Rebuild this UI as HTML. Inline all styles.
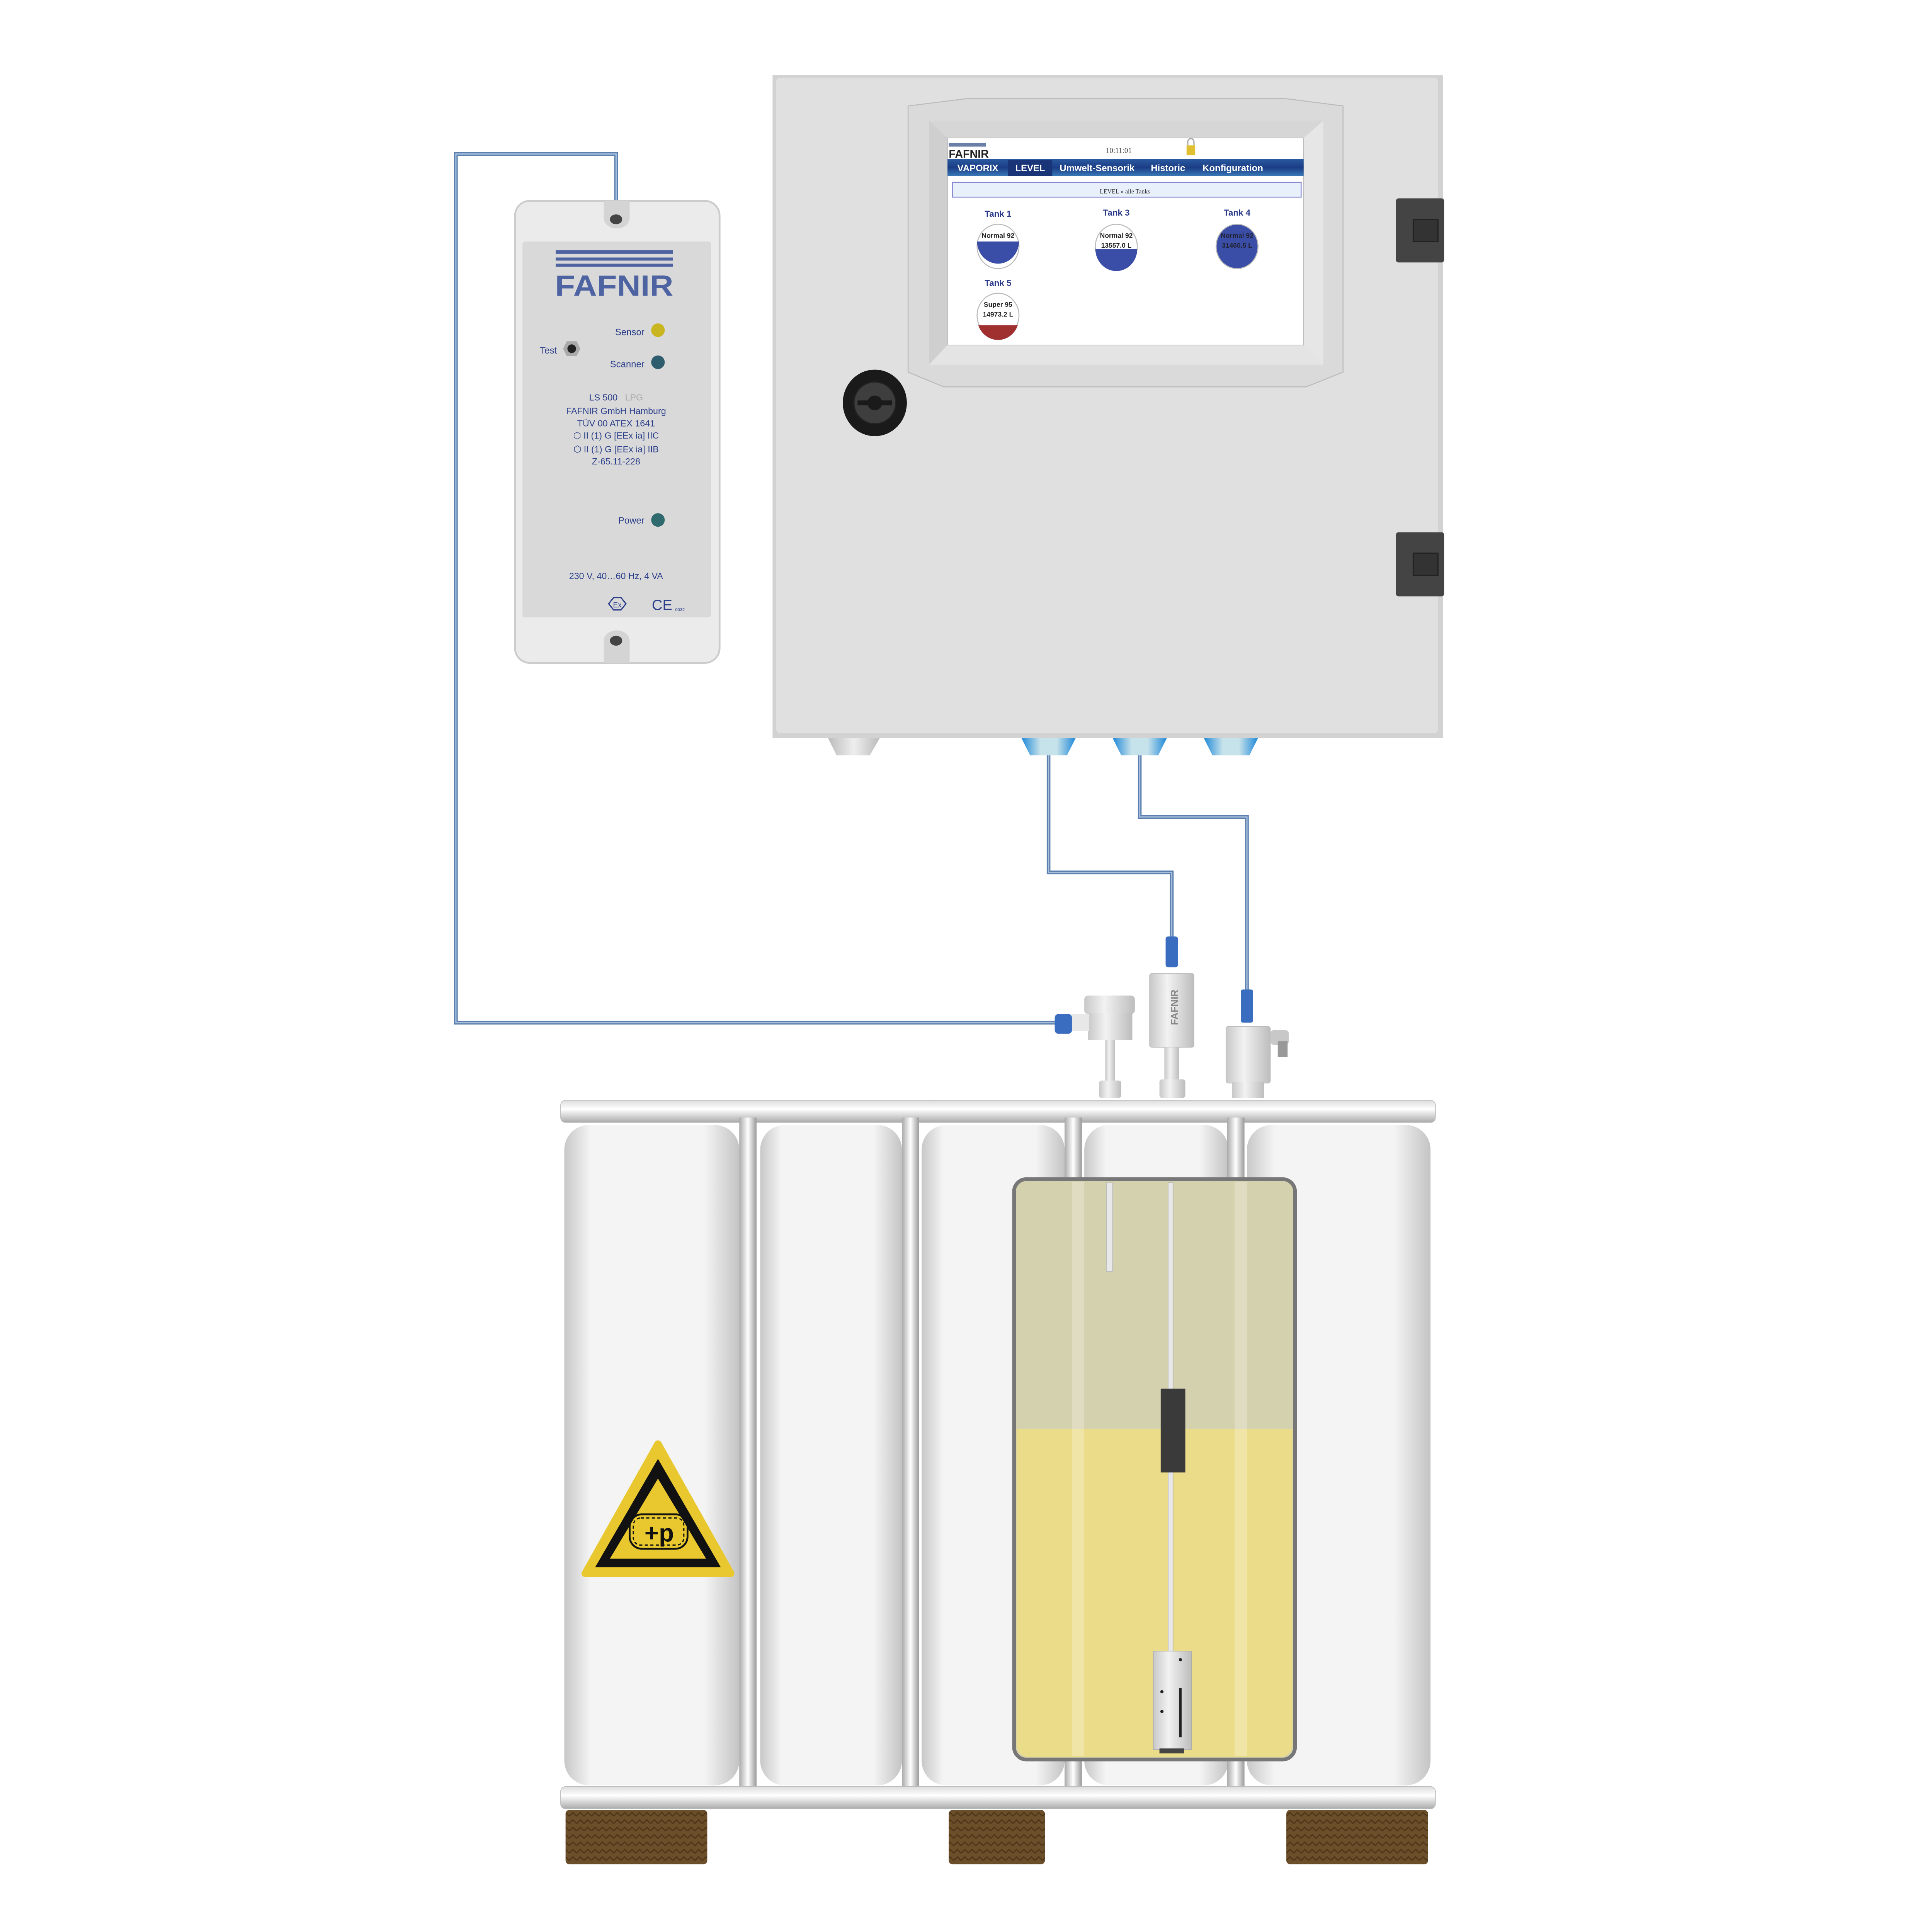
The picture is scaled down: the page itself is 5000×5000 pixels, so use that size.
<!DOCTYPE html>
<html><head><meta charset="utf-8"><style>
html,body{margin:0;padding:0;background:#fff;}
svg{display:block;}
text{font-family:"Liberation Sans",sans-serif;}
.sr{font-family:"Liberation Serif",serif;}
</style></head><body>
<svg width="5000" height="5000" viewBox="0 0 1568 1568" xmlns="http://www.w3.org/2000/svg">
<defs>
<linearGradient id="cell" x1="0" x2="1" y1="0" y2="0">
<stop offset="0" stop-color="#c8c8c8"/><stop offset="0.15" stop-color="#f4f4f4"/><stop offset="0.8" stop-color="#f4f4f4"/><stop offset="1" stop-color="#c4c4c4"/></linearGradient>
<linearGradient id="post" x1="0" x2="1"><stop offset="0" stop-color="#aaa"/><stop offset="0.5" stop-color="#fff"/><stop offset="1" stop-color="#999"/></linearGradient>
<linearGradient id="rail" x1="0" x2="0" y1="0" y2="1"><stop offset="0" stop-color="#ddd"/><stop offset="0.4" stop-color="#fff"/><stop offset="1" stop-color="#aaa"/></linearGradient>
<linearGradient id="gland" x1="0" x2="1"><stop offset="0" stop-color="#1e88d8"/><stop offset="0.35" stop-color="#c6e2ea"/><stop offset="0.65" stop-color="#c6e2ea"/><stop offset="1" stop-color="#1e88d8"/></linearGradient>
<linearGradient id="gglnd" x1="0" x2="1"><stop offset="0" stop-color="#bbb"/><stop offset="0.5" stop-color="#eee"/><stop offset="1" stop-color="#bbb"/></linearGradient>
<linearGradient id="metal" x1="0" x2="1"><stop offset="0" stop-color="#c8c8c8"/><stop offset="0.4" stop-color="#f2f2f2"/><stop offset="1" stop-color="#bdbdbd"/></linearGradient>
<linearGradient id="nav" x1="0" x2="0" y1="0" y2="1"><stop offset="0" stop-color="#2a5aa0"/><stop offset="0.5" stop-color="#1a3d85"/><stop offset="1" stop-color="#3a7ab8"/></linearGradient>
<pattern id="wood" width="6" height="6" patternUnits="userSpaceOnUse"><rect width="6" height="6" fill="#6b4e2a"/><path d="M0 4 L3 1 L6 4" stroke="#4e3618" stroke-width="1" fill="none"/></pattern>
</defs>

<!-- cables -->
<g fill="none" stroke="#5b7fae" stroke-width="3">
<path d="M500 165 V125 H370 V830 H860"/>
<path d="M851 612 V708 H951 V770"/>
<path d="M925 612 V663 H1012 V808"/>
</g>
<g fill="none" stroke="#a8c0dc" stroke-width="1">
<path d="M500 165 V125 H370 V830 H860"/>
<path d="M851 612 V708 H951 V770"/>
<path d="M925 612 V663 H1012 V808"/>
</g>

<!-- control cabinet -->
<rect x="627" y="61" width="544" height="538" fill="#d2d2d2"/>
<rect x="630" y="63" width="537" height="532" rx="3" fill="#e0e0e0"/>
<polygon points="737,86 785,80 1043,80 1090,86 1090,302 1060,314 766,314 737,302" fill="#dadada" stroke="#bbb" stroke-width="0.8"/>
<polygon points="754,98 1074,98 1058,112 769,112" fill="#d6d6d6"/>
<polygon points="754,98 769,112 769,280 754,296" fill="#cfcfcf"/>
<polygon points="1074,98 1058,112 1058,280 1074,296" fill="#e6e6e6"/>
<polygon points="754,296 769,280 1058,280 1074,296" fill="#e4e4e4"/>
<rect x="769" y="112" width="289" height="168" fill="#fff" stroke="#bbb" stroke-width="0.5"/>
<rect x="770" y="116" width="30" height="3" fill="#6a7fa8"/>
<text x="770" y="128" font-size="9" font-weight="bold" fill="#222">FAFNIR</text>
<text x="908" y="124" font-size="6" class="sr" text-anchor="middle" fill="#444">10:11:01</text>
<rect x="963" y="118" width="7" height="8" fill="#e0c030"/>
<path d="M964 118 v-3 a2.5 2.5 0 0 1 5 0 v3" stroke="#aaa" fill="none" stroke-width="1"/>
<rect x="769" y="129" width="289" height="14" fill="url(#nav)"/>
<rect x="818" y="130" width="36" height="13" fill="#1a3478"/>
<g class="sr" font-size="7.5" font-weight="bold" fill="#fff">
<text x="777" y="139">VAPORIX</text><text x="824" y="139">LEVEL</text><text x="860" y="139">Umwelt-Sensorik</text><text x="934" y="139">Historic</text><text x="976" y="139">Konfiguration</text></g>
<rect x="773" y="148" width="283" height="12" fill="#e8f0fb" stroke="#8a8ad0" stroke-width="0.8"/>
<text x="913" y="157" class="sr" font-size="5" text-anchor="middle" fill="#333">LEVEL   »   alle Tanks</text>
<g class="sr" font-size="7" font-weight="bold" fill="#2a3a8a" text-anchor="middle">
<text x="810" y="176">Tank  1</text><text x="906" y="175">Tank  3</text><text x="1004" y="175">Tank  4</text><text x="810" y="232">Tank  5</text></g>
<g stroke="#bbb" stroke-width="0.8">
<ellipse cx="810" cy="200" rx="17" ry="18" fill="#fff"/>
<ellipse cx="906" cy="200" rx="17" ry="18" fill="#fff"/>
<ellipse cx="1004" cy="200" rx="17" ry="18" fill="#3a4ea8"/>
<ellipse cx="810" cy="256" rx="17" ry="18" fill="#fff"/>
</g>
<path d="M793 196 H827 A17 18 0 0 1 793 196 Z" fill="#3a4ea8"/>
<path d="M889 202 H923 A17 18 0 0 1 889 202 Z" fill="#3a4ea8"/>
<path d="M794 264 H826 A17 18 0 0 1 794 264 Z" fill="#a03030"/>
<g class="sr" font-size="5.5" font-weight="bold" fill="#222" text-anchor="middle">
<text x="810" y="193">Normal 92</text><text x="906" y="193">Normal 92</text><text x="906" y="201">13557.0 L</text>
<text x="1004" y="193" fill="#223">Normal 92</text><text x="1004" y="201" fill="#223">31460.5 L</text>
<text x="810" y="249">Super 95</text><text x="810" y="257">14973.2 L</text></g>
<!-- knob -->
<ellipse cx="710" cy="327" rx="26" ry="27" fill="#1a1a1a"/>
<circle cx="710" cy="327" r="17" fill="#3e3e3e" stroke="#222"/>
<rect x="696" y="325" width="28" height="4" fill="#1a1a1a"/>
<circle cx="710" cy="327" r="6" fill="#1a1a1a"/>
<!-- hinges -->
<g fill="#444"><rect x="1133" y="161" width="39" height="52" rx="2"/><rect x="1133" y="432" width="39" height="52" rx="2"/></g>
<g fill="#333" stroke="#222"><rect x="1147" y="178" width="20" height="18"/><rect x="1147" y="449" width="20" height="18"/></g>
<!-- glands -->
<polygon points="672,599 714,599 706,613 679,613" fill="url(#gglnd)"/>
<polygon points="829,599 873,599 866,613 836,613" fill="url(#gland)"/>
<polygon points="903,599 947,599 940,613 910,613" fill="url(#gland)"/>
<polygon points="977,599 1021,599 1014,613 984,613" fill="url(#gland)"/>

<!-- LS500 box -->
<rect x="418" y="163" width="166" height="375" rx="12" fill="#ebebeb" stroke="#ccc" stroke-width="1.5"/>
<rect x="424" y="196" width="153" height="305" rx="2" fill="#d9d9d9"/>
<path d="M490 163 H511 V177 A10 8 0 0 1 490 177 Z" fill="#d4d4d4"/>
<ellipse cx="500" cy="178" rx="5" ry="4" fill="#444"/>
<path d="M490 538 H511 V520 A10 8 0 0 0 490 520 Z" fill="#d4d4d4"/>
<ellipse cx="500" cy="520" rx="5" ry="4" fill="#444"/>
<g fill="#4e63a2"><rect x="451" y="203" width="95" height="3"/><rect x="451" y="209" width="95" height="2.5"/><rect x="451" y="214" width="95" height="2.5"/></g>
<text x="498.5" y="240" font-size="24" font-weight="bold" fill="#4e63a2" text-anchor="middle" textLength="96" lengthAdjust="spacingAndGlyphs">FAFNIR</text>
<g font-size="7.5" fill="#2b3f8a">
<text x="523" y="272" text-anchor="end">Sensor</text>
<text x="523" y="298" text-anchor="end">Scanner</text>
<text x="452" y="287" text-anchor="end">Test</text>
<text x="523" y="425" text-anchor="end">Power</text>
</g>
<circle cx="534" cy="268" r="5.5" fill="#c8b520"/>
<circle cx="534" cy="294" r="5.5" fill="#2e5e6e"/>
<circle cx="534" cy="422" r="5.5" fill="#2f6a6e"/>
<polygon points="457,283 460,277 468,277 471,283 468,289 460,289" fill="#aaa"/>
<circle cx="464" cy="283" r="3.5" fill="#222"/>
<g font-size="7.3" fill="#2b3f8a" text-anchor="middle">
<text x="500" y="325">LS 500 <tspan fill="#aaa" dx="4">LPG</tspan></text>
<text x="500" y="336">FAFNIR GmbH Hamburg</text>
<text x="500" y="346">TÜV 00 ATEX 1641</text>
<text x="500" y="356">⬡ II (1) G [EEx ia] IIC</text>
<text x="500" y="367">⬡ II (1) G [EEx ia] IIB</text>
<text x="500" y="377">Z-65.11-228</text>
<text x="500" y="470">230 V, 40…60 Hz, 4 VA</text>
</g>
<polygon points="494,490 498,485 504,485 508,490 504,495 498,495" fill="none" stroke="#2b3f8a" stroke-width="1"/>
<text x="501" y="493" font-size="6" fill="#2b3f8a" text-anchor="middle">Ex</text>
<text x="529" y="495" font-size="12" fill="#2b3f8a">CE</text><text x="548" y="496" font-size="3.5" fill="#2b3f8a">0032</text>

<!-- pallet / tank -->
<rect x="455" y="893" width="710" height="18" rx="4" fill="url(#rail)" stroke="#bbb" stroke-width="0.5"/>
<g>
<rect x="458" y="913" width="142" height="536" rx="20" fill="url(#cell)"/>
<rect x="617" y="913" width="115" height="536" rx="20" fill="url(#cell)"/>
<rect x="748" y="913" width="116" height="536" rx="20" fill="url(#cell)"/>
<rect x="880" y="913" width="117" height="536" rx="20" fill="url(#cell)"/>
<rect x="1012" y="913" width="149" height="536" rx="20" fill="url(#cell)"/>
</g>
<g fill="url(#post)"><rect x="600" y="907" width="14" height="546"/><rect x="732" y="907" width="14" height="546"/><rect x="864" y="907" width="14" height="546"/><rect x="996" y="907" width="14" height="546"/></g>
<rect x="455" y="1450" width="710" height="18" rx="4" fill="url(#rail)" stroke="#bbb" stroke-width="0.5"/>
<rect x="459" y="1469" width="115" height="44" rx="3" fill="url(#wood)"/>
<rect x="770" y="1469" width="78" height="44" rx="3" fill="url(#wood)"/>
<rect x="1044" y="1469" width="115" height="44" rx="3" fill="url(#wood)"/>

<!-- window -->
<rect x="823" y="957" width="228" height="471" rx="10" fill="#d4d1ae" stroke="#777" stroke-width="3"/>
<path d="M825 1160 H1049 V1416 a10 10 0 0 1 -10 10 H835 a10 10 0 0 1 -10 -10 Z" fill="#ebdc8a"/>
<rect x="870" y="959" width="10" height="466" fill="#fff" opacity="0.25"/>
<rect x="1002" y="959" width="10" height="466" fill="#fff" opacity="0.25"/>
<rect x="898" y="960" width="5" height="72" fill="#e8e8e8" stroke="#bbb" stroke-width="0.5"/>
<rect x="948" y="960" width="4" height="380" fill="#e8e8e8" stroke="#aaa" stroke-width="0.5"/>
<rect x="942" y="1127" width="20" height="68" fill="#3a3a3a"/>
<rect x="936" y="1340" width="31" height="80" fill="url(#metal)" stroke="#aaa" stroke-width="0.5"/>
<rect x="941" y="1419" width="20" height="4" fill="#444"/>
<rect x="957" y="1370" width="2" height="40" fill="#222"/>
<circle cx="958" cy="1347" r="1.3" fill="#222"/><circle cx="943" cy="1373" r="1.3" fill="#222"/><circle cx="943" cy="1389" r="1.3" fill="#222"/>

<!-- warning sign -->
<polygon points="534,1172 593,1277 475,1277" fill="#e8c82e" stroke="#e8c82e" stroke-width="6" stroke-linejoin="round"/>
<polygon points="534,1184 585,1272 483,1272" fill="#111"/>
<polygon points="534,1200 573,1265 495,1265" fill="#e8c82e"/>
<rect x="511" y="1229" width="47" height="28" rx="10" fill="none" stroke="#111" stroke-width="1.5"/>
<rect x="514" y="1232" width="41" height="22" rx="6" fill="none" stroke="#111" stroke-width="1" stroke-dasharray="2.5 2"/>
<text x="535" y="1251" font-size="20" font-weight="bold" fill="#111" text-anchor="middle">+p</text>

<!-- sensors -->
<!-- left sensor -->
<rect x="897" y="840" width="8" height="45" fill="url(#metal)"/>
<rect x="892" y="877" width="18" height="14" rx="2" fill="url(#metal)"/>
<rect x="880" y="808" width="41" height="15" rx="3" fill="url(#metal)"/>
<rect x="883" y="822" width="36" height="22" fill="url(#metal)"/>
<rect x="868" y="823" width="16" height="14" fill="#e8e8e8"/>
<rect x="856" y="823" width="14" height="16" rx="3" fill="#3a6cc0"/>
<!-- middle sensor -->
<rect x="946" y="760" width="10" height="25" rx="2" fill="#3a6cc0"/>
<rect x="933" y="790" width="36" height="60" rx="2" fill="url(#metal)" stroke="#bbb" stroke-width="0.5"/>
<text transform="translate(956,832) rotate(-90)" font-size="8" font-weight="bold" fill="#888">FAFNIR</text>
<rect x="945" y="850" width="12" height="28" fill="url(#metal)"/>
<rect x="941" y="876" width="21" height="15" rx="2" fill="url(#metal)"/>
<!-- right sensor -->
<rect x="1007" y="803" width="10" height="27" rx="2" fill="#3a6cc0"/>
<rect x="995" y="833" width="36" height="46" rx="2" fill="url(#metal)" stroke="#bbb" stroke-width="0.5"/>
<rect x="1000" y="878" width="26" height="13" fill="url(#metal)"/>
<rect x="1031" y="836" width="15" height="12" rx="3" fill="#c8c8c8"/>
<rect x="1037" y="845" width="8" height="13" fill="#999"/>
</svg>
</body></html>
